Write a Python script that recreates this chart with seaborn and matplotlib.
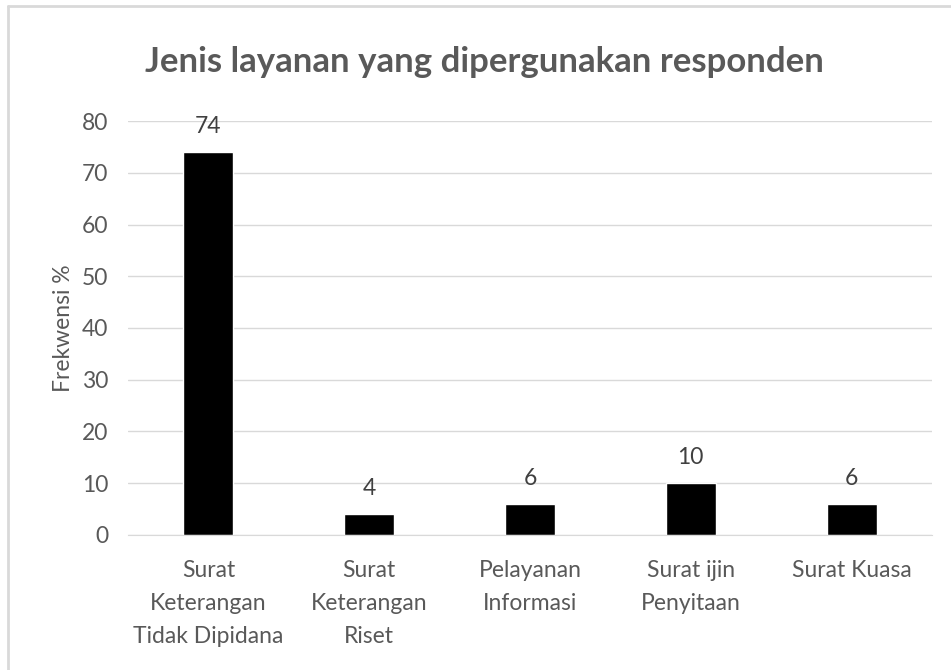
import pandas as pd
import matplotlib.pyplot as plt
import seaborn as sns
from matplotlib.lines import Line2D

# data
layanan = ["Surat\nKeterangan\nTidak Dipidana", "Surat\nKeterangan\nRiset",
           "Pelayanan\nInformasi", "Surat ijin\nPenyitaan", "Surat Kuasa"]
frekwensi = [74, 4, 6, 10, 6]
yticks = [0, 10, 20, 30, 40, 50, 60, 70, 80]

df = pd.DataFrame({"layanan": layanan, "frekwensi": frekwensi})

sns.set_style("white")
plt.rcParams["font.family"] = ["Lato", "DejaVu Sans"]

fig = plt.figure(figsize=(9.51, 6.70), dpi=100)
ax = fig.add_axes([0.1346, 0.2015, 0.8454, 0.6179])

sns.barplot(data=df, x="layanan", y="frekwensi", color="black", width=0.31,
            saturation=1, ax=ax)

ax.set_ylim(0, 80)
ax.set_yticks(yticks)
ax.yaxis.grid(True, color="#d9d9d9", linewidth=1)
ax.set_axisbelow(True)
for s in ["top", "right", "left"]:
    ax.spines[s].set_visible(False)
ax.spines["bottom"].set_color("#d9d9d9")
ax.tick_params(axis="both", length=0, labelsize=16.5, colors="#595959")
ax.tick_params(axis="x", pad=18)
ax.tick_params(axis="y", pad=14)
for lbl in ax.get_xticklabels():
    lbl.set_linespacing(1.72)

ax.set_xlabel("")
ax.set_ylabel("Frekwensi %", fontsize=16.5, color="#595959", labelpad=6)

for c in ax.containers:
    ax.bar_label(c, fontsize=16.5, color="#404040", padding=11)

fig.suptitle("Jenis layanan yang dipergunakan responden", x=0.509, y=0.907,
             va="center", fontsize=25, fontweight="bold", color="#595959")

# chart area border (top and left visible)
fig.add_artist(Line2D([0.0085, 1.0], [0.991, 0.991], transform=fig.transFigure,
                      color="#d9d9d9", linewidth=2))
fig.add_artist(Line2D([0.0085, 0.0085], [0.0, 0.991], transform=fig.transFigure,
                      color="#d9d9d9", linewidth=2))

fig.savefig("out.png", dpi=100)
